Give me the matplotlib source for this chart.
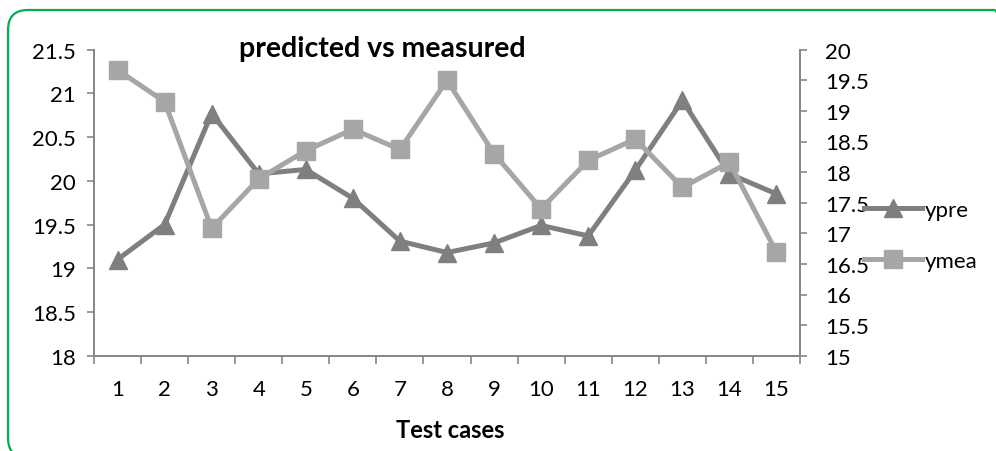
import matplotlib
matplotlib.use("Agg")
import matplotlib.pyplot as plt
from matplotlib.patches import FancyBboxPatch
from matplotlib.transforms import IdentityTransform
from matplotlib.ticker import FixedLocator, NullFormatter

plt.rcParams['font.family'] = ['Lato', 'DejaVu Sans']

cases = list(range(1, 16))
ypre = [19.1, 19.5, 20.77, 20.08, 20.13, 19.8, 19.31, 19.18, 19.29, 19.49,
        19.37, 20.12, 20.92, 20.08, 19.85]
ymea = [19.67, 19.15, 17.08, 17.89, 18.35, 18.7, 18.37, 19.5, 18.3, 17.4,
        18.19, 18.54, 17.75, 18.16, 16.69]
left_ticks = [18, 18.5, 19, 19.5, 20, 20.5, 21, 21.5]
right_ticks = [15, 15.5, 16, 16.5, 17, 17.5, 18, 18.5, 19, 19.5, 20]

W, H = 996, 452
fig = plt.figure(figsize=(W / 100, H / 100), dpi=100)

# rounded green border (pixel coordinates, origin bottom-left)
border = FancyBboxPatch((8, -7), 1014 - 8, (H - 11) + 7,
                        boxstyle="round,pad=0,rounding_size=20",
                        transform=IdentityTransform(), fill=False,
                        edgecolor='#00B050', linewidth=1.6, clip_on=False)
fig.patches.append(border)

ax = fig.add_axes([94 / W, 1 - 356.7 / H, (800 - 94) / W, (356.7 - 50.7) / H])
ax2 = ax.twinx()

dark = '#7f7f7f'
light = '#a6a6a6'
axis_col = '#868686'

l1, = ax.plot(cases, ypre, color=dark, lw=3.6, marker='^', markersize=13,
              markeredgecolor=dark, markerfacecolor=dark, solid_joinstyle='round')
l2, = ax2.plot(cases, ymea, color=light, lw=3.6, marker='s', markersize=12.5,
               markeredgecolor=light, markerfacecolor=light, solid_joinstyle='round')

ax.set_xlim(0.5, 15.5)
ax.set_ylim(18, 21.5)
ax2.set_ylim(15, 20)
ax.set_yticks(left_ticks)
ax.set_yticklabels([f"{v:g}" for v in left_ticks])
ax2.set_yticks(right_ticks)
ax2.set_yticklabels([f"{v:g}" for v in right_ticks])

ax.set_xticks(cases)
ax.set_xticklabels([str(c) for c in cases])
ax.xaxis.set_minor_locator(FixedLocator([c - 0.5 for c in cases] + [15.5]))
ax.xaxis.set_minor_formatter(NullFormatter())

for a in (ax, ax2):
    for s in a.spines.values():
        s.set_color(axis_col)
        s.set_linewidth(1.3)
    a.spines['top'].set_visible(False)

ax.tick_params(axis='x', which='major', length=0, pad=17, labelsize=16)
ax.tick_params(axis='x', which='minor', length=6, width=1.2, color=axis_col, direction='out')
ax.tick_params(axis='y', length=5, width=1.2, color=axis_col, labelsize=16, pad=8)
ax2.tick_params(axis='y', length=5, width=1.2, color=axis_col, labelsize=16, pad=13)

fig.text(382 / W, 1 - 49 / H, "predicted vs measured", ha='center', va='center',
         fontsize=20.5, fontweight='bold')
fig.text(450 / W, 1 - 431 / H, "Test cases", ha='center', va='center',
         fontsize=17, fontweight='bold')

leg = fig.legend([l1, l2], ['ypre', 'ymea'], loc='upper left',
                 bbox_to_anchor=(864 / W, 1 - 201 / H), frameon=False,
                 fontsize=16, handlelength=2.6, handletextpad=0.15,
                 labelspacing=1.4, borderpad=0, borderaxespad=0)

fig.savefig("out.png", dpi=100)
